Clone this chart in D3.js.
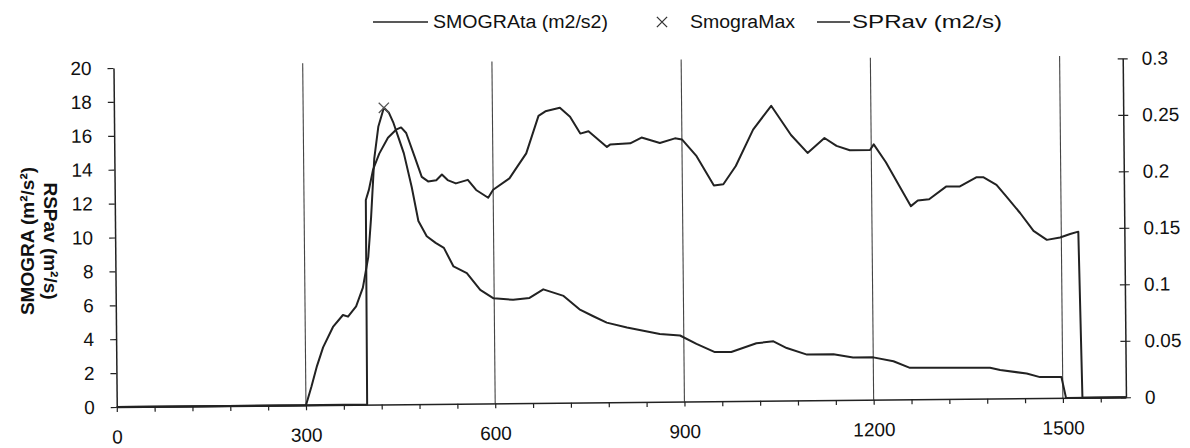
<!DOCTYPE html>
<html><head><meta charset="utf-8">
<script src="https://cdn.jsdelivr.net/npm/d3@7"></script>
<style>body{margin:0;background:#fff}svg{display:block;font-family:"Liberation Sans",Arial,sans-serif}</style>
</head><body><svg id="c" width="1190" height="448"></svg>
<script>
const smograTime=[0,300,309,318,328,344,360,368,381,392,401,406,412,419,428,436,443,451,459,471,481,494,508,521,536,557,578,599,630,656,678,710,735,756,778,810,836,862,894,920,949,975,1015,1042,1063,1095,1137,1168,1200,1232,1258,1300,1385,1401,1443,1464,1498,1505,1600];
const smograValue=[0,0,1.1,2.3,3.4,4.6,5.3,5.2,5.8,6.9,8.7,11.0,14.5,16.4,17.5,17.2,16.6,15.7,14.8,12.8,10.8,9.9,9.5,9.2,8.1,7.7,6.7,6.2,6.1,6.2,6.7,6.3,5.5,5.1,4.7,4.4,4.2,4.0,3.9,3.4,2.9,2.9,3.4,3.5,3.1,2.7,2.7,2.5,2.5,2.26,1.86,1.85,1.82,1.68,1.46,1.24,1.23,0,0];
const spravTime=[0,397,398,403,410,420,434,447,455,463,476,487,497,510,519,528,541,560,573,592,600,626,637,653,673,684,707,723,739,752,781,786,818,836,865,889,900,923,950,965,985,1013,1042,1073,1099,1126,1145,1166,1198,1204,1223,1244,1262,1273,1291,1318,1340,1366,1377,1398,1413,1435,1456,1477,1498,1514,1527,1531,1600];
const spravValue=[0,0,.181,.190,.208,.222,.236,.243,.245,.240,.219,.201,.197,.198,.203,.198,.195,.198,.189,.182,.189,.199,.208,.221,.254,.258,.261,.253,.238,.240,.226,.228,.229,.234,.229,.233,.232,.217,.191,.192,.208,.240,.261,.235,.219,.232,.225,.221,.221,.226,.210,.189,.171,.176,.177,.188,.188,.196,.196,.189,.179,.164,.148,.140,.142,.145,.147,0,0];
const smograMaxTime=[428];
const smograMaxValue=[17.5];
const xLabelTicks=[0,300,600,900,1200,1500];
const xMinorTicks=d3.range(0,1600,60);
const leftTicks=[0,2,4,6,8,10,12,14,16,18,20];
const rightTicks=[0,0.05,0.1,0.15,0.2,0.25,0.3];
const legendLabels=["SMOGRAta (m2/s2)","SmograMax","SPRav (m2/s)"];
const leftTitle="SMOGRA (m\u00b2/s\u00b2)";
const rightTitle="RSPav (m\u00b2/s)";

const svg=d3.select("#c");
const X0=116.75,Y0=407,YT=68,XR=1126;
const x=d3.scaleLinear().domain([0,1600]).range([X0,XR]);
const yL=d3.scaleLinear().domain([0,20]).range([Y0,YT]);
const yR=d3.scaleLinear().domain([0,0.3]).range([Y0,YT]);
const ink="#222";
const g=svg.append("g").attr("transform",`rotate(-0.55,${X0},${Y0})`);

g.selectAll("line.grid").data(xLabelTicks.filter(d=>d>0)).join("line").attr("class","grid")
 .attr("x1",d=>x(d)).attr("x2",d=>x(d)).attr("y1",YT-3).attr("y2",Y0)
 .attr("stroke","#444").attr("stroke-width",1.1);

function styleAxis(sel){
  sel.selectAll("path.domain").attr("stroke",ink).attr("stroke-width",1.5);
  sel.selectAll(".tick line").attr("stroke",ink).attr("stroke-width",1.2);
  sel.selectAll(".tick text").attr("fill","#111").attr("font-size",19).attr("font-family","Liberation Sans, Arial, sans-serif");
}
const bx=g.append("g").attr("transform",`translate(0,${Y0})`)
 .call(d3.axisBottom(x).tickValues(xMinorTicks).tickSize(5).tickSizeOuter(0).tickFormat(""));
styleAxis(bx);
const bl=g.append("g").attr("transform",`translate(0,${Y0})`)
 .call(d3.axisBottom(x).tickValues(xLabelTicks).tickSize(0).tickPadding(23).tickFormat(d3.format("d")));
bl.select("path.domain").remove();
styleAxis(bl);

const la=g.append("g").attr("transform",`translate(${X0},0)`)
 .call(d3.axisLeft(yL).tickValues(leftTicks).tickSize(6).tickSizeOuter(0).tickPadding(16));
styleAxis(la);

const ra=g.append("g").attr("transform",`translate(${XR},0)`)
 .call(d3.axisRight(yR).tickValues(rightTicks).tickSize(5).tickSizeOuter(0).tickPadding(14)
   .tickFormat(d=>d===0?"0":String(+d.toFixed(2))));
ra.selectAll(".tick line").attr("x1",-5);
styleAxis(ra);

const idxS=d3.range(smograTime.length);
g.append("path").datum(idxS)
 .attr("d",d3.line().x(i=>x(smograTime[i])).y(i=>yL(smograValue[i])))
 .attr("fill","none").attr("stroke",ink).attr("stroke-width",2).attr("stroke-linejoin","round");
const idxP=d3.range(spravTime.length);
g.append("path").datum(idxP)
 .attr("d",d3.line().x(i=>x(spravTime[i])).y(i=>yR(spravValue[i])))
 .attr("fill","none").attr("stroke",ink).attr("stroke-width",2).attr("stroke-linejoin","round");

g.selectAll("path.mx").data(d3.range(smograMaxTime.length)).join("path").attr("class","mx")
 .attr("transform",i=>`translate(${x(smograMaxTime[i])},${yL(smograMaxValue[i])})`)
 .attr("d",d3.symbol(d3.symbolTimes,70)).attr("fill","none").attr("stroke","#555").attr("stroke-width",1.3);

const lg=svg.append("g").attr("font-size",18).attr("fill","#111");
lg.append("line").attr("x1",373).attr("x2",428).attr("y1",22).attr("y2",22).attr("stroke",ink).attr("stroke-width",1.6);
lg.append("text").attr("x",433).attr("y",28).attr("textLength",175).attr("lengthAdjust","spacingAndGlyphs").text(legendLabels[0]);
lg.append("path").attr("transform","translate(662,22)").attr("d",d3.symbol(d3.symbolTimes,70)).attr("fill","none").attr("stroke","#333").attr("stroke-width",1.3);
lg.append("text").attr("x",690).attr("y",28).attr("textLength",105).attr("lengthAdjust","spacingAndGlyphs").text(legendLabels[1]);
lg.append("line").attr("x1",817).attr("x2",850).attr("y1",22).attr("y2",22).attr("stroke",ink).attr("stroke-width",1.6);
lg.append("text").attr("x",852).attr("y",28).attr("textLength",150).attr("lengthAdjust","spacingAndGlyphs").text(legendLabels[2]);

svg.append("text").attr("transform","translate(34,241) rotate(-90)").attr("text-anchor","middle")
 .attr("font-size",19).attr("font-weight","bold").attr("fill","#111").text(leftTitle);
svg.append("text").attr("transform","translate(44,241) rotate(90)").attr("text-anchor","middle")
 .attr("font-size",19).attr("font-weight","bold").attr("fill","#111").text(rightTitle);
</script></body></html>
